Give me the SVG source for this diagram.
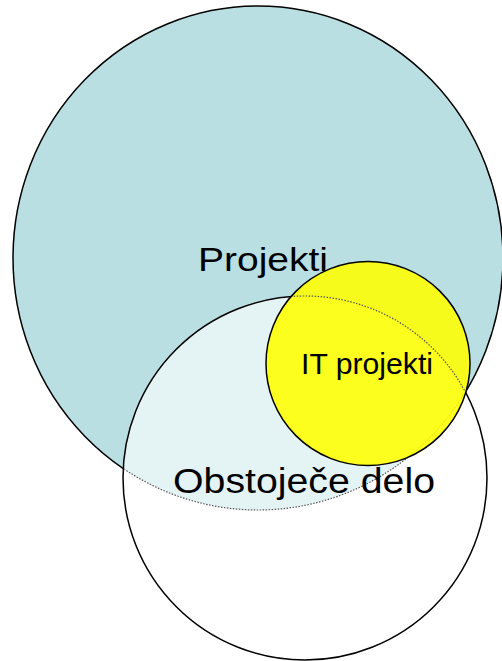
<svg xmlns="http://www.w3.org/2000/svg" width="502" height="661" viewBox="0 0 502 661">
<style>
.lbl{font-family:"Liberation Sans",Arial,sans-serif;fill:#000}
.outline{stroke:#000;stroke-width:1.5}
.hidden-edge{fill:none;stroke:#555;stroke-width:1.2;stroke-dasharray:1.5 1.5}
</style>
<defs>
<clipPath id="inWhite"><circle cx="305" cy="478" r="181"/></clipPath>
<clipPath id="inYellow"><circle cx="368" cy="363.5" r="101"/></clipPath>
<mask id="outWhite"><rect width="502" height="661" fill="#fff"/><circle cx="305" cy="478" r="181" fill="#000"/></mask>
<mask id="outYellow"><rect width="502" height="661" fill="#fff"/><circle cx="368" cy="363.5" r="101" fill="#000"/></mask>
</defs>
<rect width="502" height="661" fill="#fff"/>
<g id="projekti">
<ellipse cx="258" cy="258" rx="245" ry="252" fill="#b9dfe2"/>
<ellipse cx="258" cy="258" rx="245" ry="252" fill="none" class="outline" mask="url(#outWhite)"/>
</g>
<g id="obstojece-delo">
<circle cx="305" cy="478" r="182" fill="#ffffff" fill-opacity="0.62"/>
<ellipse cx="258" cy="258" rx="245" ry="252" class="hidden-edge" clip-path="url(#inWhite)"/>
<circle cx="305" cy="478" r="182" fill="none" class="outline" mask="url(#outYellow)"/>
</g>
<g id="it-projekti">
<circle cx="368" cy="363.5" r="102" fill="#ffff00" fill-opacity="0.88" class="outline"/>
<circle cx="305" cy="478" r="182" class="hidden-edge" clip-path="url(#inYellow)"/>
</g>
<g id="connectors"></g>
<g id="labels">
<text class="lbl" x="198" y="271" font-size="34" textLength="130" lengthAdjust="spacingAndGlyphs">Projekti</text>
<text class="lbl" x="301" y="374" font-size="29" textLength="132" lengthAdjust="spacingAndGlyphs">IT projekti</text>
<text class="lbl" x="173" y="493" font-size="35" textLength="262" lengthAdjust="spacingAndGlyphs">Obstoječe delo</text>
</g>
</svg>
